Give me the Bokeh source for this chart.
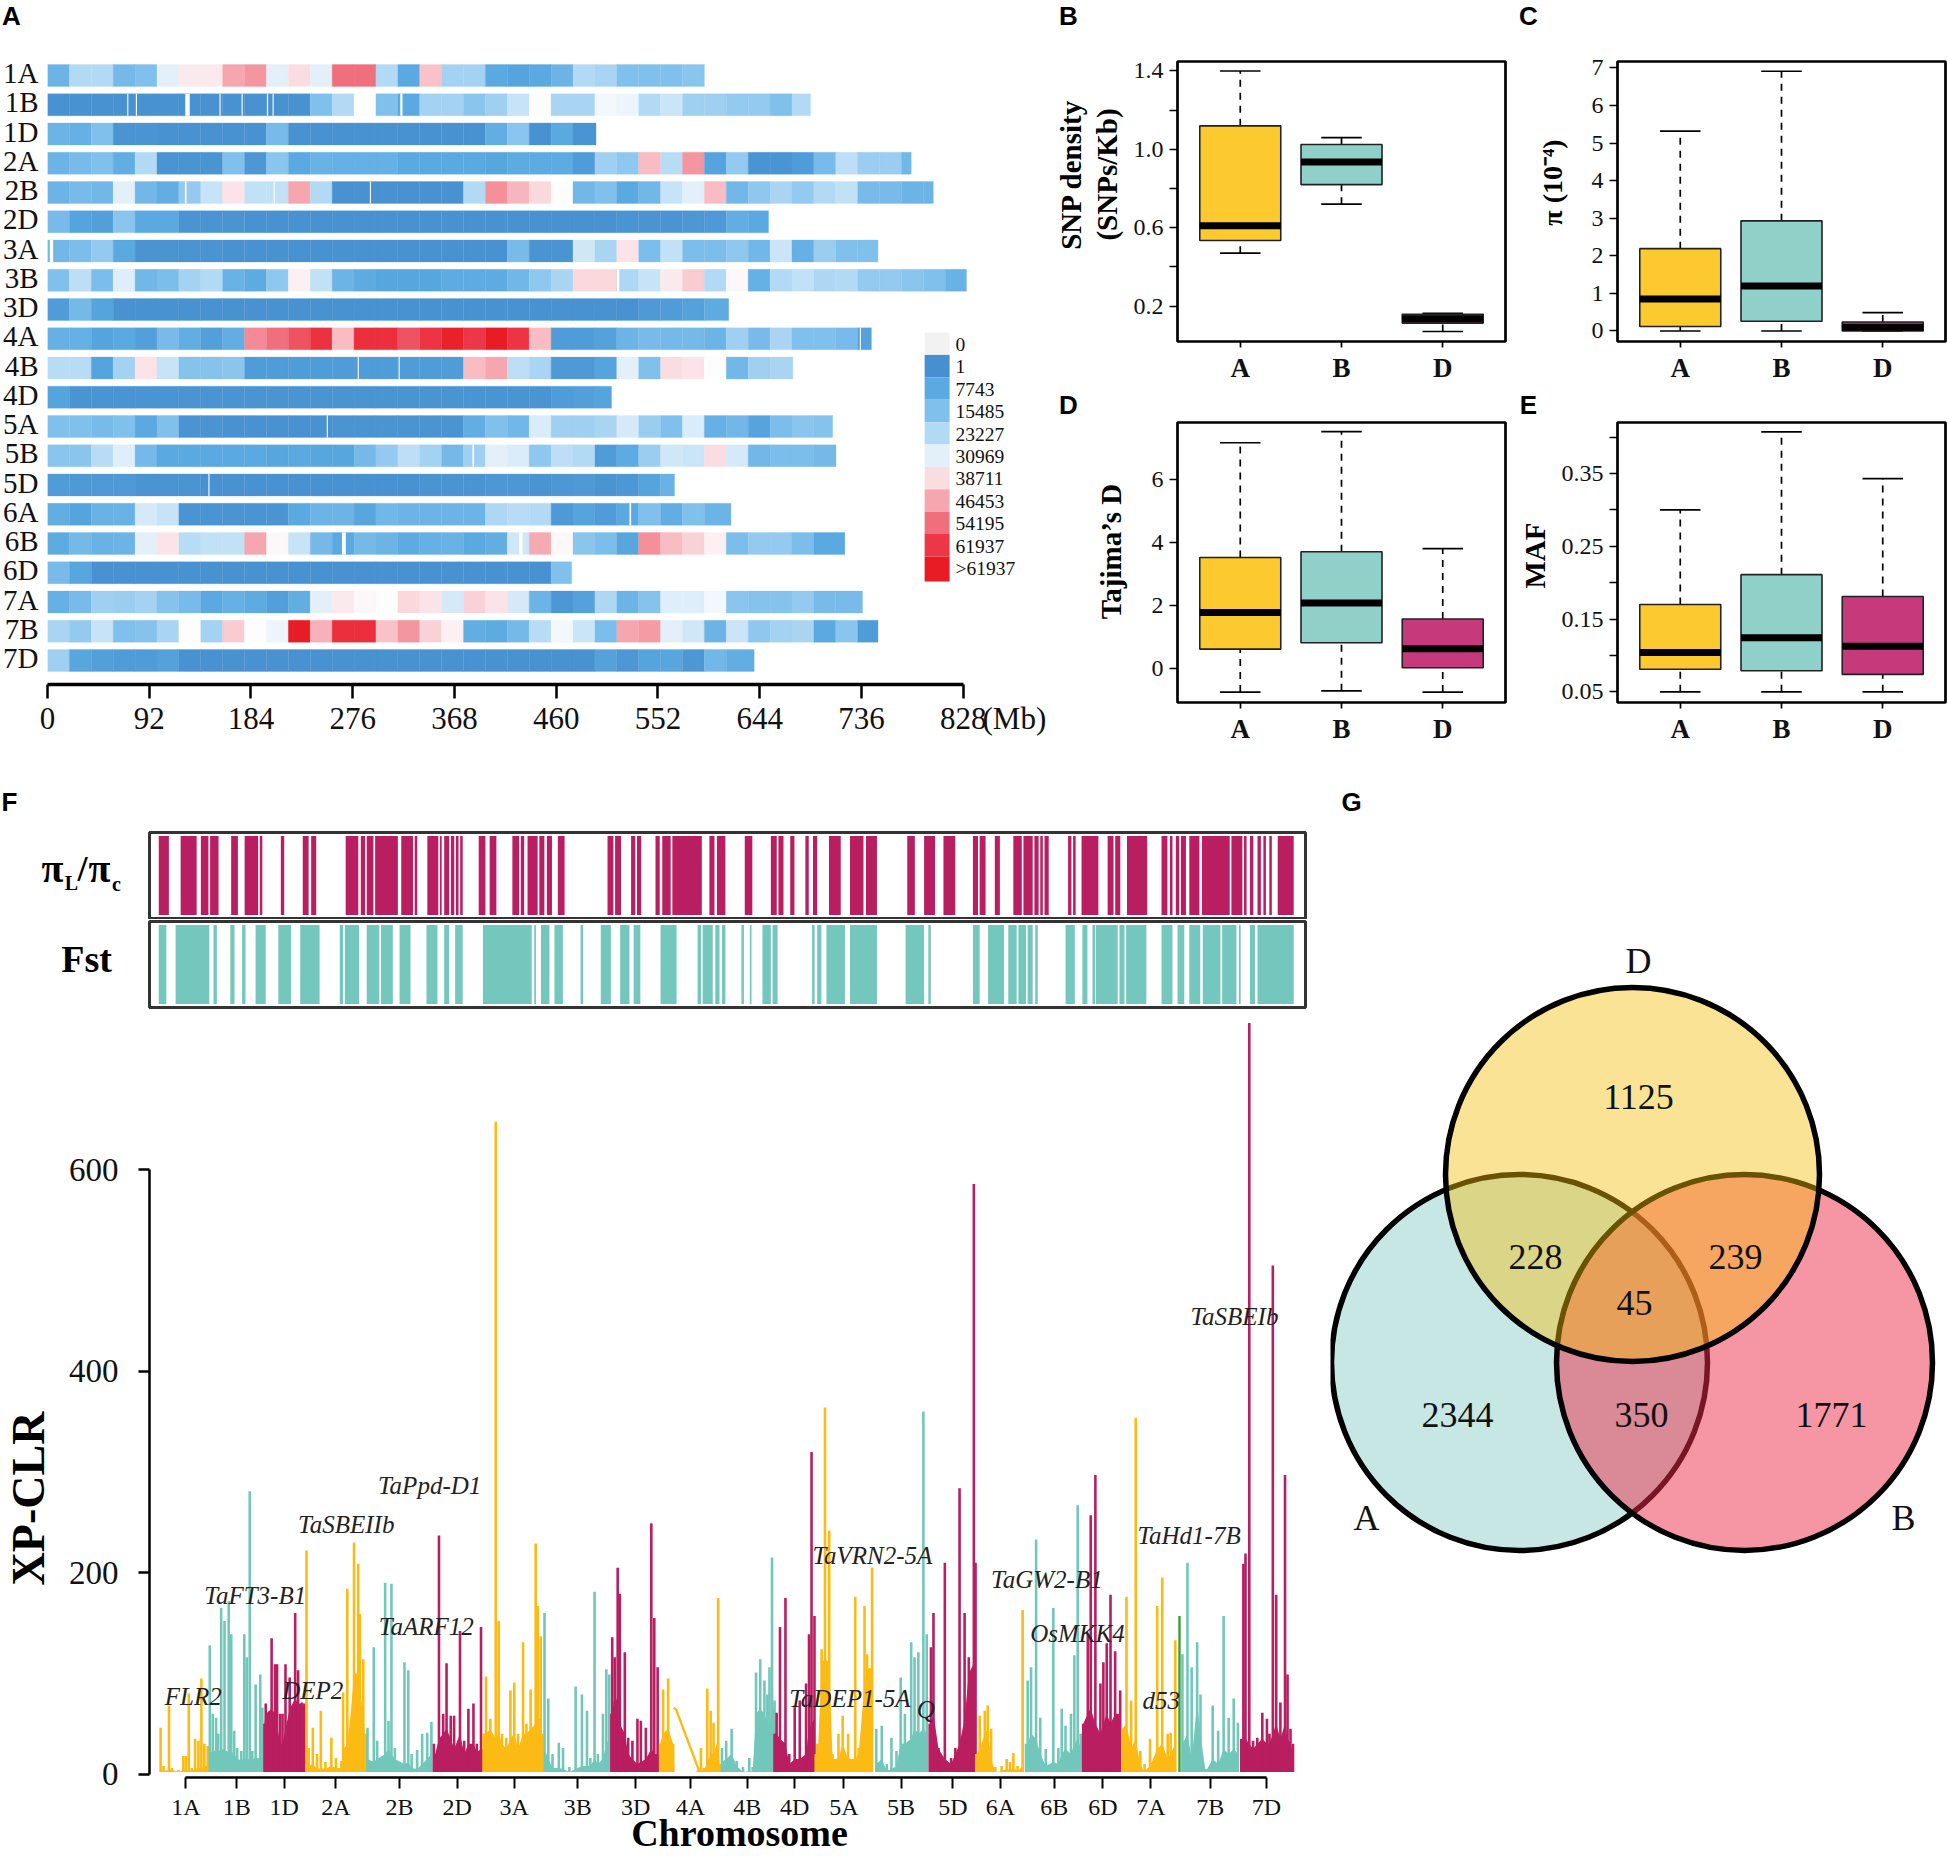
import numpy as np
from bokeh.embed import file_html
from bokeh.resources import INLINE
from bokeh.plotting import figure
from bokeh.layouts import column, row
from bokeh.models import Range1d, LinearAxis, FixedTicker
from bokeh.core.properties import value

SERIF = "Liberation Serif"
SANS = "Liberation Sans"

# ---------- Panel A: SNP density, mean level per 19.8 Mb window ----------
chrom_names = ["1A","1B","1D","2A","2B","2D","3A","3B","3D","4A","4B","4D","5A","5B","5D","6A","6B","6D","7A","7B","7D"]
chrom_len = [594,690,496,781,801,652,751,831,616,745,674,510,710,713,567,618,721,474,737,751,639]
bins_1A = [2.5,4,4,2.7,3,5,5.8,5.8,7,7.3,5,6,5,8,8,4,2,6.5,3.7,3.7,2,1.8,2,2.5,4,3.8,3,3,3,3.2]
bins_1B = [1.1,1.1,1.1,1.1,1.1,1.1,1.1,1.1,1.1,1.1,1.1,1.1,3,4,5.5,3,2,3.7,3.7,3.2,3.6,4.4,5.5,3.8,3.8,5.3,5.2,4,4.5,3.6,3.6,3.4,3.4,3,4]
bins_1D = [2.5,2.3,3,1.2,1.2,1.1,1.1,1.1,1.1,1.1,2.8,1.1,1.1,1.1,1.1,1.1,1.1,1.1,1.1,1.1,2.2,3.2,1.1,2,1.2]
bins_2A = [2.5,2.8,3,2.2,4,1.2,1.2,1.2,3,1.3,3.2,2,2.4,2.3,2.3,2.3,2,2,2,2,1.9,2.1,2.1,2.1,1.5,3.6,3.3,6.6,4.1,7.3,1.8,3.4,1.2,1.2,1.5,2.8,4.2,3.5,3.5,2.6]
bins_2B = [2.5,2.8,2.6,5,2.6,2.2,3.4,4.4,5.9,4.3,4.3,7,4,1.1,1.1,1.1,1.1,1.1,1.1,4,7.4,6.7,6.1,5.5,2.6,3,2,2.6,4.4,5,6.6,2.6,3.3,3.8,3.4,4,4.3,2.8,2.8,2.5,2.5]
bins_2D = [2.8,1.8,1.6,3.2,2,2,1.2,1.2,1.2,1.1,1.1,1.1,1.1,1.1,1.1,1.1,1.1,1.1,1.1,1.1,1.1,1.1,1.1,1.1,1.1,1.1,1.2,1.2,1.2,1.3,1.4,2.2,2]
bins_3A = [2.6,2.9,3.4,2,1.2,1.2,1.2,1.2,1.1,1.1,1.1,1.1,1.1,1.1,1.1,1.1,1.1,1.1,1.1,1.1,1.1,2.8,1.2,1.2,4.6,3.8,5.9,2.9,4.3,2.9,2.9,3.3,2.6,4.5,2.3,3.5,3,3]
bins_3B = [3,4.2,2.9,4.9,2.6,2.9,3.7,4,2.4,2.1,3.3,5.7,4.3,2.5,2.1,1.9,1.9,1.9,2.1,2.1,2.1,2.6,3.3,3.8,6.1,6.1,3.9,4.4,5.8,6.3,4,5.6,2.3,4,4.3,3.9,4,3.4,3.4,3.2,3,2.4]
bins_3D = [1.5,2.7,1.8,1.1,1.1,1.1,1.1,1.1,1.1,1.1,1.1,1.1,1.1,1.1,1.1,1.1,1.1,1.1,1.1,1.1,1.1,1.1,1.1,1.1,1.1,1.1,1.1,1.4,1.5,1.7,2.1]
bins_4A = [2.3,2.3,1.8,2,1.6,2.8,2.2,1.6,2.2,7.5,8,8.5,9.2,6.6,9.3,9.3,8.5,9.1,9.8,9,10,9.1,6.6,1.5,1.5,1.7,2.5,2.8,2.7,2.7,2.5,3.6,2.8,3.8,3,3,2.8,1.7]
bins_4B = [4.1,4.1,1.8,3.7,5.9,4.4,3.1,3.1,3.2,1.5,1.5,1.5,1.5,1.5,1.5,1.5,1.5,1.5,1.5,6.6,7,4.2,3.8,1.4,1.4,1.8,5,3,6,5.9,5.5,2.6,3.6,3.8]
bins_4D = [1.8,1.2,1.2,1.2,1.2,1.2,1.2,1.2,1.2,1.2,1.2,1.2,1.2,1.2,1.2,1.2,1.2,1.2,1.2,1.2,1.2,1.2,1.2,1.5,1.6,1.8]
bins_5A = [3,3,2.8,3,2,3,1.2,1.2,1.1,1.1,1.1,1.1,1.1,1.2,1.2,1.2,1.2,1.2,1.2,2.2,3,2.6,4.8,3.6,3.6,3.8,4.7,3.5,3,4.8,2.3,2.6,1.8,2.9,3.2,3.1]
bins_5B = [3.2,3.2,4.1,4.9,2.7,2,2,2,2,2,1.9,2,1.9,1.9,2.7,3.4,4.2,3.7,2.7,3.6,5,4.8,3.3,4.2,4,1.5,2.1,3.5,4.6,4.5,6,4.7,2.6,2.9,2.9,2.7]
bins_5D = [1.5,1.4,1.4,1.4,1.2,1.2,1.2,1.1,1.1,1.1,1.1,1.1,1.1,1.1,1.1,1.1,1.1,1.2,1.2,1.2,1.3,1.3,1.2,1.3,1.4,1.2,1.3,1.8,2.4]
bins_6A = [2.2,1.8,2.4,2.4,4.7,4.4,1.2,1.2,1.2,1.2,1.2,2,2.5,2.5,1.9,2.6,2.5,2.5,2.5,2.5,3.9,4.1,4,1.4,1.8,1.5,2,3,2.2,3,2.5]
bins_6B = [2.1,2.7,2.4,2.5,5,5.9,4.1,4.3,4.3,7,5.6,4.4,2.7,2,2.7,2.5,2.1,2.3,2.4,2,2.2,4.6,6.9,5.6,3.2,2.9,1.9,7.4,6.6,6.2,5.7,2.9,3.4,3.4,2.9,2]
bins_6D = [2.8,1.9,1.1,1.1,1.1,1.1,1.1,1.1,1.1,1.1,1.1,1.1,1.1,1.1,1.1,1.1,1.1,1.1,1.1,1.1,1.1,1.1,1.1,3]
bins_7A = [2.3,2.8,3.6,3.5,3.7,3.1,2.8,2,2.3,2.1,1.6,2.2,5,5.8,5.6,5.5,6.1,5.9,4.7,6.2,5.9,4.7,2.5,1.3,1.7,3.9,2.5,3.1,4.9,4.9,5.3,3.2,3.1,3.1,3.4,2.8,2.8]
bins_7B = [3.8,3.4,4.4,3,3.1,3.8,5.5,3.7,6.3,5.5,5.2,10,6.8,9.3,9.3,6.5,7.3,6.2,5.7,2.2,2.1,2.7,4.1,5.3,4.5,2.9,7,7.2,5,4.6,2.5,4.5,3.3,3.7,3.8,2,3.2,1.5]
bins_7D = [3.6,1.9,1.6,1.5,1.5,1.7,1.1,1.1,1.1,1.1,1.1,1.1,1.1,1.1,1.1,1.1,1.1,1.1,1.1,1.1,1.1,1.1,1.1,1.1,1.1,1.7,1.3,1.8,1.9,1.3,2.6,2.2]
slit_row = [1,1,1,1,1,1,1,1,4,4,4,6,7,9,10,10,12,13,14,15,16,16]
slit_pos = [72.6,80.4,126.6,156,176,199,204,320,125,205,292,3.6,516,735,281,318,253,385,146,527,268,428]
slit_wid = [1,1,4,1,1,1,1,2,1.5,1,1,3,2,1,1,1,1,1.5,1,1.5,3.5,3]
legend_labels = ["0","1","7743","15485","23227","30969","38711","46453","54195","61937",">61937"]
density_ticks = [0,92,184,276,368,460,552,644,736,828]

level_stops = [1,2,3,4,5,5.5,6,7,8,9,10]
level_hex = ["#478fcf","#5aa9e0","#80c0ec","#b3daf5","#e3f0fa","#fdfdfe","#fadde1","#f6a6ae","#f06f7d","#ec3748","#e81c24"]
rgb = np.array([[int(c[i:i+2],16) for i in (1,3,5)] for c in level_hex],float)
def level_color(v):
    return "#%02x%02x%02x" % tuple(int(round(np.interp(v,level_stops,rgb[:,k]))) for k in range(3))

# ---------- Panels B-E: boxplots (whisker low, q1, median, q3, whisker high) ----------
groups = ["A","B","D"]
box_fill = ["#fcc92e","#8fd0c8","#c63a7c"]
snp_box = [[0.47,0.535,0.61,1.12,1.40],[0.72,0.82,0.935,1.025,1.06],[0.07,0.113,0.135,0.158,0.163]]
pi_box = [[0.0,0.12,0.85,2.19,5.32],[0.0,0.26,1.2,2.93,6.91],[0.0,0.0,0.1,0.24,0.49]]
taj_box = [[-0.74,0.62,1.78,3.52,7.15],[-0.7,0.82,2.08,3.7,7.5],[-0.74,0.03,0.63,1.57,3.8]]
maf_box = [[0.05,0.081,0.104,0.17,0.30],[0.05,0.079,0.1245,0.211,0.407],[0.05,0.074,0.1125,0.181,0.343]]

# ---------- Panel F: selective-sweep tracks (start, end of windows) ----------
pi_start = [188,214,238,249,274,290,308,333,359,369,410,428,435,445,476,492,507,522,527,535,541,546,568,581,608,618,626,640,649,662,721,730,749,756,778,786,798,842,851,884,915,924,938,956,965,984,1009,1028,1077,1097,1120,1155,1163,1181,1203,1215,1228,1235,1240,1268,1274,1284,1315,1324,1338,1379,1389,1396,1402,1412,1427,1462,1477,1484,1493,1500,1507,1517]
pi_end = [200,233,247,259,282,306,311,337,366,375,425,433,443,472,490,495,520,524,533,539,544,549,576,589,616,622,638,646,655,670,728,737,754,761,783,796,833,848,861,893,922,930,943,960,970,998,1025,1041,1086,1110,1134,1161,1170,1187,1213,1226,1233,1238,1245,1272,1277,1304,1322,1330,1362,1386,1392,1400,1408,1424,1460,1475,1480,1488,1497,1503,1510,1536]
fst_start = [188,208,253,273,287,303,330,356,403,409,435,452,474,506,527,540,573,634,642,658,689,713,736,752,784,828,834,849,857,880,890,905,917,964,970,981,1009,1075,1102,1155,1173,1197,1209,1220,1229,1265,1285,1297,1301,1329,1337,1379,1398,1412,1428,1451,1471,1484,1493]
fst_end = [197,248,257,278,291,315,345,379,407,426,450,466,487,519,533,549,631,636,652,668,692,725,747,760,803,832,846,854,861,883,892,915,923,967,975,1003,1041,1097,1105,1163,1192,1207,1218,1226,1232,1276,1291,1300,1327,1335,1361,1392,1406,1425,1449,1468,1473,1490,1536]

# ---------- Panel F: XP-CLR per chromosome: position, peak height, solid floor ----------
x1A=[378,385,398,405,420,432,438,445,452,460,468,475,482,490]
t1A=[46,8,68,6,4,18,18,80,6,35,33,95,30,28]
f1A=[3,3,4,4,2,4,4,3,3,5,6,6,8,8]
x1B=[495,502,510,515,522,530,540,546,553,560,570,577,583,590,596,604,615,620]
t1B=[128,60,56,40,165,152,172,139,43,26,23,139,116,281,23,89,99,66]
f1B=[22,22,24,22,25,24,22,22,20,15,14,15,15,15,15,16,16,16]
x1D=[625,628,642,650,655,662,668,675,685,698,705,714,720]
t1D=[50,70,135,109,109,60,60,109,96,160,103,71,70]
f1D=[50,60,65,60,50,30,30,45,65,75,70,70,68]
x2A=[725,730,740,750,759,770,784,795,808,812,822,830,838,848,852,860,866]
t2A=[222,26,46,20,63,12,36,16,13,81,184,40,230,209,159,114,40]
f2A=[6,8,10,5,6,5,8,6,6,25,30,60,100,100,80,60,30]
x2B=[870,885,893,912,920,927,935,958,967,975,988,1000,1012,1022]
t2B=[46,126,33,190,53,189,26,111,103,20,24,40,41,52]
f2B=[15,12,15,20,25,20,15,10,12,6,5,10,15,20]
x2D=[1028,1040,1050,1058,1068,1076,1090,1100,1110,1122,1130,1140,1144]
t2D=[30,237,60,110,58,58,142,33,65,70,30,146,25]
f2D=[15,35,40,45,35,25,40,20,30,30,22,25,25]
x3A=[1146,1152,1162,1175,1182,1190,1200,1210,1219,1228,1240,1248,1258,1270,1275,1282,1286]
t3A=[40,97,55,648,152,40,36,83,91,40,131,50,84,229,167,137,40]
f3A=[40,40,45,35,40,30,25,35,40,25,40,40,45,50,55,55,30]
x3B=[1291,1300,1310,1325,1335,1350,1365,1380,1392,1400,1410,1418,1430,1438,1445]
t3B=[160,75,20,31,26,7,87,79,63,16,181,20,60,104,99]
f3B=[25,15,6,6,5,2,5,8,8,8,15,10,15,30,35]
x3D=[1450,1452,1458,1465,1470,1482,1490,1500,1512,1520,1532,1545,1552,1560,1565]
t3D=[60,136,116,205,179,121,36,33,55,53,46,249,155,106,20]
f3D=[55,60,80,70,50,40,20,15,10,12,15,25,20,20,18]
x4A=[1566,1573,1585,1597,1600,1656,1663,1670,1678,1686,1693,1704,1708]
t4A=[30,84,95,30,2,4,26,6,85,63,51,175,10]
f4A=[30,40,45,30,2,2,5,3,12,20,20,35,5]
x4A_slope=[1598,1604,1658]
y4A_slope=[66,64,4]
x4B=[1713,1723,1736,1748,1763,1778,1786,1794,1804,1814,1821,1826,1832,1838]
t4B=[26,33,45,13,7,16,7,101,114,93,79,106,215,73]
f4B=[12,15,20,8,2,3,2,60,65,60,50,45,70,60]
x4D=[1838,1843,1851,1864,1873,1886,1898,1913,1920,1926,1933]
t4D=[40,61,146,175,20,68,73,90,139,320,157]
f4D=[40,40,35,30,10,15,15,20,45,50,55]
x5A=[1936,1940,1950,1958,1968,1976,1990,2000,2013,2030,2038,2052,2058,2070]
t5A=[20,30,124,364,242,20,40,58,40,176,26,167,119,205]
f5A=[10,10,110,115,110,15,15,30,15,15,20,90,105,105]
x5B=[2080,2093,2105,2116,2128,2138,2148,2163,2171,2180,2192,2200]
t5B=[45,48,10,36,23,96,60,131,116,121,360,139]
f5B=[10,15,3,5,8,30,30,35,45,40,45,40]
x5D=[2207,2210,2216,2228,2243,2258,2268,2278,2290,2300,2312,2316]
t5D=[50,126,160,26,210,16,26,284,160,116,586,210]
f5D=[50,50,60,25,15,10,20,30,55,100,110,100]
x6A=[2318,2326,2338,2345,2353,2363,2378,2390,2398,2406,2416,2428]
t6A=[20,58,63,68,45,7,8,15,12,21,8,163]
f6A=[20,25,40,45,15,2,3,5,4,6,3,8]
x6B=[2436,2440,2448,2460,2470,2483,2501,2513,2521,2530,2543,2551,2559,2566]
t6B=[30,93,106,233,56,25,165,26,65,48,60,118,267,40]
f6B=[25,30,40,35,20,8,12,10,20,25,20,30,35,25]
x6D=[2572,2583,2590,2601,2613,2620,2628,2637,2648,2660]
t6D=[50,139,257,297,90,111,130,178,122,83]
f6D=[50,60,65,50,40,50,60,50,60,60]
x7A=[2665,2675,2686,2697,2708,2718,2731,2748,2760,2773,2780,2791]
t7A=[45,176,73,354,23,10,35,167,195,40,41,133]
f7A=[45,50,25,35,8,3,8,25,30,15,20,30]
x7B=[2808,2820,2830,2843,2851,2863,2880,2893,2906,2918,2930,2940]
t7B=[119,210,106,131,79,5,68,43,157,56,75,51]
f7B=[30,40,15,70,40,2,15,10,25,20,25,20]
x7B_green=[2801]
t7B_green=[157]
x7D=[2948,2953,2958,2967,2976,2986,2998,3009,3015,3023,3031,3041,3052,3058,3065,3071]
t7D=[35,209,219,746,33,36,61,55,40,505,178,71,297,99,45,30]
f7D=[30,35,35,30,25,30,35,30,30,40,50,35,50,35,30,20]

sweep_ticks=[438,559,672,795,946,1083,1219,1370,1508,1638,1773,1886,2003,2139,2262,2375,2503,2619,2733,2874,3008]
gene_names=["FLR2","TaFT3-B1","DEP2","TaSBEIIb","TaPpd-D1","TaARF12","TaDEP1-5A","Q","TaVRN2-5A","TaGW2-B1","OsMKK4","d53","TaHd1-7B","TaSBEIb"]
gene_x=[388,482,667,705,895,897,1873,2176,1928,2353,2446,2713,2701,2827]
gene_y=[77,177,83,248,287,147,75,64,217,193,140,73,237,454]

# ---------- Panel G: Venn counts ----------
venn_counts=["1125","228","239","45","2344","350","1771"]
venn_names=["D","A","B"]

YEL,TEAL,MAG="#fcbb14","#72c7bb","#b81e60"

def make_fig(g,xr,yr):
    w,h,l,r,t,b=g
    p=figure(width=w,height=h,x_range=Range1d(*xr),y_range=Range1d(*yr),
             min_border_left=l,min_border_right=r,min_border_top=t,min_border_bottom=b,
             x_axis_location=None,y_axis_location=None,toolbar_location=None,output_backend="svg",
             background_fill_color="white",border_fill_color="white",margin=0)
    p.xgrid.visible=False; p.ygrid.visible=False
    p.outline_line_color=None
    return p

# transparent page-sized layer for every text that lies outside a plot frame
page=figure(width=1947,height=1856,x_range=Range1d(0,1947),y_range=Range1d(1856,0),
            min_border_left=0,min_border_right=0,min_border_top=0,min_border_bottom=0,
            x_axis_location=None,y_axis_location=None,toolbar_location=None,output_backend="svg",
            background_fill_color=None,border_fill_color=None,margin=(-1856,0,0,0))
page.xgrid.visible=False; page.ygrid.visible=False; page.outline_line_color=None

def txt(x,y,s,size,font=SERIF,style="normal",align="center",angle=0,color="black"):
    page.text(x=[x],y=[y],text=[s],text_font=value(font),text_font_size=f"{size}px",text_font_style=style,
              text_align=align,text_baseline="middle",angle=np.deg2rad(angle),text_color=color)

# ---- Panel A figure ----
gA=(1050,750,46,0,60,66)
pA=make_fig(gA,(0,1004/1.107),((684-75)/29.25,-15/29.25))
all_bins=[bins_1A,bins_1B,bins_1D,bins_2A,bins_2B,bins_2D,bins_3A,bins_3B,bins_3D,bins_4A,bins_4B,bins_4D,bins_5A,bins_5B,bins_5D,bins_6A,bins_6B,bins_6D,bins_7A,bins_7B,bins_7D]
L,R,T,B,C=[],[],[],[],[]
for i,(vals,ln) in enumerate(zip(all_bins,chrom_len)):
    n=len(vals)
    for k,v in enumerate(vals):
        L.append(k*19.8); R.append(ln if k==n-1 else (k+1)*19.8)
        T.append(i-0.375); B.append(i+0.375); C.append(level_color(v))
pA.quad(left=L,right=R,top=T,bottom=B,fill_color=C,line_color=C,line_width=0.3)
pA.quad(left=[p-w/2 for p,w in zip(slit_pos,slit_wid)],right=[p+w/2 for p,w in zip(slit_pos,slit_wid)],
        top=[r-0.375 for r in slit_row],bottom=[r+0.375 for r in slit_row],fill_color="white",line_color=None)
row_ticks=[i-0.08 for i in range(21)]
ay=LinearAxis(ticker=FixedTicker(ticks=row_ticks),major_label_overrides={t:n for t,n in zip(row_ticks,chrom_names)},
    axis_line_color=None,major_tick_line_color=None,minor_tick_line_color=None,major_tick_out=0,major_tick_in=0,
    major_label_standoff=9,major_label_text_font=SERIF,major_label_text_font_size="29px",major_label_text_color="#111")
pA.add_layout(ay,"left")
ax=LinearAxis(ticker=FixedTicker(ticks=density_ticks),bounds=(0,828),axis_line_width=3.5,axis_line_color="black",
    major_tick_line_width=2.5,major_tick_out=14,major_tick_in=0,minor_tick_line_color=None,major_label_standoff=9,
    major_label_text_font=SERIF,major_label_text_font_size="31px",major_label_text_color="#111")
pA.add_layout(ax,"below")
txt(982,718,"(Mb)",31,align="left",color="#111")
txt(11,15,"A",26,font=SANS,style="bold")
leg_x0,leg_x1=(924-46)/1.107,(949-46)/1.107
leg_top=[(332+22.4*i-75)/29.25 for i in range(11)]
leg_bot=[(332+22.4*(i+1)-75)/29.25 for i in range(10)]+[(581-75)/29.25]
leg_col=["#f2f2f2"]+level_hex[:5]+level_hex[6:]
pA.quad(left=leg_x0,right=leg_x1,top=leg_top,bottom=leg_bot,fill_color=leg_col,line_color=None)
for i,s in enumerate(legend_labels):
    txt(955,344+22.4*i,s,19.5,align="left",color="#111")

# ---- Boxplots ----
def box_panel(g,yr,data,ticks,minor,labels):
    p=make_fig(g,(0.38,3.62),yr)
    p.outline_line_color="black"; p.outline_line_width=2.7
    for i,(d,c) in enumerate(zip(data,box_fill)):
        x=i+1; lo,q1,med,q3,hi=d
        p.segment([x,x],[lo,q3],[x,x],[q1,hi],line_color="black",line_width=1.7,line_dash="7 6")
        p.segment([x-0.2,x-0.2],[lo,hi],[x+0.2,x+0.2],[lo,hi],line_color="black",line_width=1.7)
        p.quad(left=[x-0.4],right=[x+0.4],bottom=[q1],top=[q3],fill_color=c,line_color="#222",line_width=1.6)
        p.segment([x-0.4],[med],[x+0.4],[med],line_color="black",line_width=7,line_cap="butt")
    yax=LinearAxis(ticker=FixedTicker(ticks=ticks,minor_ticks=minor),major_label_overrides=labels,axis_line_color=None,
        major_tick_line_width=1.7,major_tick_out=8,major_tick_in=0,minor_tick_line_width=1.7,minor_tick_out=8,minor_tick_in=0,
        major_label_standoff=6,major_label_text_font=SERIF,major_label_text_font_size="24px",major_label_text_color="#111")
    p.add_layout(yax,"left")
    xax=LinearAxis(ticker=FixedTicker(ticks=[1,2,3]),major_label_overrides={1:"A",2:"B",3:"D"},axis_line_color=None,
        major_tick_line_width=1.7,major_tick_out=6,major_tick_in=0,minor_tick_line_color=None,major_label_standoff=5,
        major_label_text_font=SERIF,major_label_text_font_style="bold",major_label_text_font_size="27px",major_label_text_color="#111")
    p.add_layout(xax,"below")
    return p

gB=(470,385,127,15,61,44); gC=(427,385,97,2,61,44)
gD=(470,365,127,15,37,48); gE=(427,365,97,2,37,48)
pB=box_panel(gB,(0.019,1.4485),snp_box,[0.2,0.6,1.0,1.4],[0.4,0.8,1.2],{0.2:"0.2",0.6:"0.6",1.0:"1.0",1.4:"1.4"})
pC=box_panel(gC,(-0.28,7.17),pi_box,[0,1,2,3,4,5,6,7],[],{})
pD=box_panel(gD,(-1.07,7.79),taj_box,[0,2,4,6],[],{})
pE=box_panel(gE,(0.0354,0.42),maf_box,[0.05,0.15,0.25,0.35],[0.1,0.2,0.3,0.4],{0.05:"0.05",0.15:"0.15",0.25:"0.25",0.35:"0.35"})
txt(1070,174,"SNP density",29,style="bold",angle=90)
txt(1106,174,"(SNPs/Kb)",29,style="bold",angle=90)
txt(1552,182,"\u03c0 (10\u207b\u2074)",28,style="bold",angle=90)
txt(1110,551,"Tajima\u2019s D",29,style="bold",angle=90)
txt(1534,555,"MAF",29,style="bold",angle=90)
txt(1068,15,"B",26,font=SANS,style="bold")
txt(1528,15,"C",26,font=SANS,style="bold")
txt(1068,404,"D",26,font=SANS,style="bold")
txt(1528,404,"E",26,font=SANS,style="bold")

# ---- Panel F tracks ----
def track(g,st,en,color):
    p=make_fig(g,(177,1550),(0,1))
    p.outline_line_color="#333333"; p.outline_line_width=3
    p.quad(left=st,right=en,bottom=0.04,top=0.96,fill_color=color,line_color=None)
    return p
gF1=(1330,169,149,25,82,1); gF2=(1330,90,149,25,2,2)
pF1=track(gF1,pi_start,pi_end,MAG)
pF2=track(gF2,fst_start,fst_end,"#74c7bc")
txt(9,801,"F",26,font=SANS,style="bold")
txt(52,868,"\u03c0",40,style="bold")
txt(71,882,"L",20,style="bold")
txt(82,868,"/",36,style="bold")
txt(99,868,"\u03c0",40,style="bold")
txt(116,883,"c",20,style="bold")
txt(86,958,"Fst",38,style="bold")

# ---- Panel F Manhattan ----
gF3=(1330,847,148,25,3,79)
pF3=make_fig(gF3,(351.6,3100.7),(-3.4,756.4))
series=[(x1A,t1A,f1A,YEL),(x1B,t1B,f1B,TEAL),(x1D,t1D,f1D,MAG),(x2A,t2A,f2A,YEL),(x2B,t2B,f2B,TEAL),(x2D,t2D,f2D,MAG),
        (x3A,t3A,f3A,YEL),(x3B,t3B,f3B,TEAL),(x3D,t3D,f3D,MAG),(x4A,t4A,f4A,YEL),(x4B,t4B,f4B,TEAL),(x4D,t4D,f4D,MAG),
        (x5A,t5A,f5A,YEL),(x5B,t5B,f5B,TEAL),(x5D,t5D,f5D,MAG),(x6A,t6A,f6A,YEL),(x6B,t6B,f6B,TEAL),(x6D,t6D,f6D,MAG),
        (x7A,t7A,f7A,YEL),(x7B,t7B,f7B,TEAL),(x7D,t7D,f7D,MAG)]
for xs,ts,fs,c in series:
    pF3.varea(x=xs,y1=[2]*len(xs),y2=fs,fill_color=c)
    pF3.segment(xs,[2]*len(xs),xs,ts,line_color=c,line_width=2.6)
pF3.line(x4A_slope,y4A_slope,line_color=YEL,line_width=2.4)
pF3.segment(x7B_green,[2],x7B_green,t7B_green,line_color="#3e9e3e",line_width=2.4)
pF3.text(x=gene_x,y=gene_y,text=gene_names,text_font=value(SERIF),text_font_style="italic",text_font_size="25px",
         text_color="#222222",text_baseline="middle",text_align="left")
f3y=LinearAxis(ticker=FixedTicker(ticks=[0,200,400,600]),bounds=(0,600),axis_line_width=2.5,axis_line_color="black",
    major_tick_line_width=2.5,major_tick_out=11,major_tick_in=0,minor_tick_line_color=None,major_label_standoff=20,
    major_label_text_font=SERIF,major_label_text_font_size="33px",major_label_text_color="#111")
pF3.add_layout(f3y,"left")
f3x=LinearAxis(ticker=FixedTicker(ticks=sweep_ticks),major_label_overrides={t:n for t,n in zip(sweep_ticks,chrom_names)},
    bounds=(sweep_ticks[0],sweep_ticks[-1]),axis_line_width=2.5,axis_line_color="black",major_tick_line_width=2,
    major_tick_out=11,major_tick_in=0,minor_tick_line_color=None,major_label_standoff=5,
    major_label_text_font=SERIF,major_label_text_font_size="24px",major_label_text_color="#111")
pF3.add_layout(f3x,"below")
txt(28,1498,"XP-CLR",46,style="bold",angle=90)
txt(739,1832,"Chromosome",38,style="bold")

# ---- Panel G ----
gG=(617,1106,0,0,0,0)
pG=make_fig(gG,(1330,1947),(1856,750))
pG.circle(x=[1519],y=[1362],radius=188,fill_color="#8fcfcb",fill_alpha=0.5,line_color="black",line_width=5.5)
pG.circle(x=[1744],y=[1362],radius=188,fill_color="#ed2b47",fill_alpha=0.5,line_color="black",line_width=5.5)
pG.circle(x=[1632],y=[1174],radius=187,fill_color="#f6be0b",fill_alpha=0.43,line_color="black",line_width=5.5)
pG.text(x=[1638,1535,1735,1634,1457,1641,1831],y=[1096,1256,1256,1302,1414,1414,1414],text=venn_counts,
        text_font=value(SERIF),text_font_size="36px",text_align="center",text_baseline="middle",text_color="#111")
pG.text(x=[1638,1366,1903],y=[960,1517,1517],text=venn_names,text_font=value(SERIF),text_font_size="36px",
        text_align="center",text_baseline="middle",text_color="#111")
txt(1351,801,"G",26,font=SANS,style="bold")

right=column(row(pB,pC,spacing=0,margin=0),row(pD,pE,spacing=0,margin=0),spacing=0,margin=0)
top=row(pA,right,spacing=0,margin=0)
fcol=column(pF1,pF2,pF3,spacing=0,margin=0)
bottom=row(fcol,pG,spacing=0,margin=0)
root=column(top,bottom,page,spacing=0,margin=0)
open("out.html","w").write(file_html(root,INLINE))
